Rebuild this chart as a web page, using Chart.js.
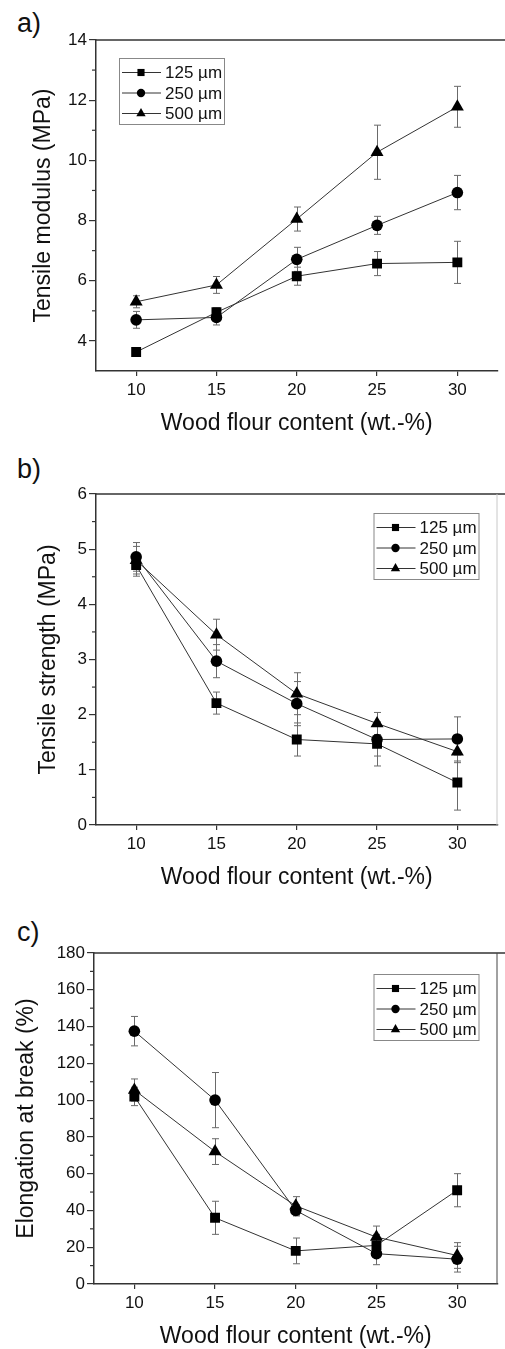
<!DOCTYPE html>
<html>
<head>
<meta charset="utf-8">
<script src="https://cdn.jsdelivr.net/npm/chart.js@4.4.0/dist/chart.umd.min.js"></script>
<style>
  html, body { margin: 0; padding: 0; background: #fff; }
  body { width: 505px; height: 1349px; position: relative; overflow: hidden; font-family: "Liberation Sans", Arial, sans-serif; }
  .panel { position: absolute; left: 0; overflow: hidden; }
  .tag { position: absolute; left: 17px; font-size: 27px; line-height: 27px; color: #111; }
</style>
</head>
<body>
<div class="tag" style="top:10px">a)</div>
<div class="panel" style="top:0;width:505px;height:440px"><canvas id="chartA" width="505" height="440"></canvas></div>
<div class="tag" style="top:456px">b)</div>
<div class="panel" style="top:454px;width:505px;height:440px"><canvas id="chartB" width="505" height="440"></canvas></div>
<div class="tag" style="top:919px">c)</div>
<div class="panel" style="top:913px;width:505px;height:436px"><canvas id="chartC" width="505" height="440"></canvas></div>
<script>
const FONT = '"Liberation Sans", Arial, sans-serif';

// shared
const woodContent = [10, 15, 20, 25, 30];
const xTicks = [10, 15, 20, 25, 30];
const seriesNames = ['125 µm', '250 µm', '500 µm'];

// a) tensile modulus (MPa)
const modulus125 = [3.63, 4.95, 6.15, 6.57, 6.61];
const modulus125Err = [0.13, 0.15, 0.3, 0.4, 0.7];
const modulus250 = [4.70, 4.78, 6.71, 7.84, 8.93];
const modulus250Err = [0.28, 0.25, 0.4, 0.3, 0.57];
const modulus500 = [5.30, 5.86, 8.05, 10.27, 11.78];
const modulus500Err = [0.2, 0.28, 0.4, 0.9, 0.68];
const modulusTicks = [4, 6, 8, 10, 12, 14];
const modulusMinor = [5, 7, 9, 11, 13];

// b) tensile strength (MPa)
const strength125 = [4.71, 2.21, 1.55, 1.47, 0.77];
const strength125Err = [0.2, 0.2, 0.3, 0.4, 0.5];
const strength250 = [4.86, 2.97, 2.20, 1.55, 1.56];
const strength250Err = [0.26, 0.3, 0.4, 0.3, 0.4];
const strength500 = [4.80, 3.45, 2.38, 1.84, 1.33];
const strength500Err = [0.25, 0.28, 0.38, 0.2, 0.2];
const strengthTicks = [0, 1, 2, 3, 4, 5, 6];
const strengthMinor = [0.5, 1.5, 2.5, 3.5, 4.5, 5.5];

// c) elongation at break (%)
const elong125 = [102, 36, 18, 21, 51];
const elong125Err = [5, 9, 7, 6, 9];
const elong250 = [137.5, 100, 40, 16.5, 13.5];
const elong250Err = [8, 15, 3, 6, 7];
const elong500 = [105.5, 72, 42.5, 25.5, 15.5];
const elong500Err = [6, 7, 5, 6, 7];
const elongTicks = [0, 20, 40, 60, 80, 100, 120, 140, 160, 180];
const elongMinor = [10, 30, 50, 70, 90, 110, 130, 150, 170];

const styles = ['rect', 'circle', 'triangle'];
const radii = [7, 5.8, 7.5];

function drawMarker(ctx, style, x, y, r) {
  ctx.beginPath();
  if (style === 'rect') {
    const s = r * Math.SQRT1_2;
    ctx.rect(x - s, y - s, 2 * s, 2 * s);
  } else if (style === 'circle') {
    ctx.arc(x, y, r, 0, Math.PI * 2);
  } else {
    ctx.moveTo(x, y - r);
    ctx.lineTo(x + r * 0.866, y + r / 2);
    ctx.lineTo(x - r * 0.866, y + r / 2);
    ctx.closePath();
  }
  ctx.fill();
}

const errorBars = {
  id: 'errorBars',
  beforeDatasetsDraw(chart) {
    const { ctx, scales: { x, y } } = chart;
    ctx.save();
    ctx.strokeStyle = '#6a6a6a';
    ctx.lineWidth = 1;
    chart.data.datasets.forEach(ds => {
      ds.data.forEach((p, i) => {
        const e = ds.errors[i];
        const px = Math.round(x.getPixelForValue(p.x)) + 0.5;
        const top = y.getPixelForValue(p.y + e);
        const bot = y.getPixelForValue(p.y - e);
        ctx.beginPath();
        ctx.moveTo(px, top); ctx.lineTo(px, bot);
        ctx.moveTo(px - 3.5, top); ctx.lineTo(px + 3.5, top);
        ctx.moveTo(px - 3.5, bot); ctx.lineTo(px + 3.5, bot);
        ctx.stroke();
      });
    });
    ctx.restore();
  }
};

const frame = {
  id: 'frame',
  afterDraw(chart, args, opts) {
    const { ctx, chartArea: a, scales: { y } } = chart;
    ctx.save();
    ctx.strokeStyle = '#333';
    ctx.lineWidth = 1.5;
    ctx.beginPath();
    ctx.moveTo(a.left, a.top); ctx.lineTo(chart.width, a.top);
    ctx.stroke();
    if (opts.rightColor) {
      ctx.strokeStyle = opts.rightColor;
      ctx.lineWidth = 1;
      ctx.beginPath();
      ctx.moveTo(a.right - 0.5, a.top); ctx.lineTo(a.right - 0.5, a.bottom);
      ctx.stroke();
    }
    ctx.strokeStyle = '#333';
    ctx.lineWidth = 1.2;
    opts.minor.forEach(v => {
      const py = y.getPixelForValue(v);
      ctx.beginPath();
      ctx.moveTo(a.left - 4, py); ctx.lineTo(a.left, py);
      ctx.stroke();
    });

    // legend box
    const w = 105, h = 66;
    const left = opts.legendSide === 'left' ? a.left + opts.dx : a.right - opts.dx - w;
    const top = a.top + opts.dy;
    ctx.fillStyle = '#fff';
    ctx.fillRect(left, top, w, h);
    ctx.strokeStyle = '#888';
    ctx.lineWidth = 1;
    ctx.strokeRect(left + 0.5, top + 0.5, w, h);
    ctx.font = '17px ' + FONT;
    ctx.textBaseline = 'middle';
    chart.data.datasets.forEach((ds, i) => {
      const cy = top + 14.5 + i * 20.5;
      ctx.strokeStyle = '#333';
      ctx.beginPath();
      ctx.moveTo(left + 3, cy); ctx.lineTo(left + 42, cy);
      ctx.stroke();
      ctx.fillStyle = '#000';
      drawMarker(ctx, ds.pointStyle, left + 22, cy, ds.pointRadius * 0.72);
      ctx.fillStyle = '#111';
      ctx.fillText(ds.label, left + 46, cy + 1);
    });
    ctx.restore();
  }
};

function makeDatasets(values, errors) {
  return values.map((ys, k) => ({
    label: seriesNames[k],
    data: woodContent.map((x, i) => ({ x: x, y: ys[i] })),
    errors: errors[k],
    borderColor: '#333',
    borderWidth: 1,
    pointStyle: styles[k],
    pointRadius: radii[k],
    pointBackgroundColor: '#000',
    pointBorderWidth: 0,
    tension: 0
  }));
}

function makeChart(id, cfg) {
  return new Chart(document.getElementById(id), {
    type: 'line',
    data: { datasets: makeDatasets(cfg.values, cfg.errors) },
    options: {
      responsive: false,
      animation: false,
      layout: { padding: { top: 40, right: cfg.padRight, left: 0, bottom: 0 } },
      plugins: {
        legend: { display: false },
        tooltip: { enabled: false },
        frame: cfg.frame
      },
      scales: {
        x: {
          type: 'linear', min: 7.5, max: 32.5,
          afterBuildTicks: s => { s.ticks = xTicks.map(v => ({ value: v })); },
          afterFit: s => { s.height = 69; },
          grid: { drawOnChartArea: false, tickLength: 5, color: '#333', lineWidth: 1.2 },
          border: { color: '#333', width: 1.5 },
          ticks: { font: { size: 17, family: FONT }, color: '#111', padding: 4, maxRotation: 0 },
          title: { display: true, text: 'Wood flour content (wt.-%)', font: { size: 23, family: FONT }, color: '#111', padding: { top: 0, bottom: 3 } }
        },
        y: {
          type: 'linear', min: cfg.min, max: cfg.max,
          afterBuildTicks: s => { s.ticks = cfg.ticks.map(v => ({ value: v })); },
          afterFit: s => { s.width = cfg.axisLeft; },
          grid: { drawOnChartArea: false, tickLength: 7, color: '#333', lineWidth: 1.2 },
          border: { color: '#333', width: 1.5 },
          ticks: { font: { size: 17, family: FONT }, color: '#111', padding: 2 },
          title: { display: true, text: cfg.title, font: { size: 23, family: FONT }, color: '#111', padding: { top: cfg.titlePad, bottom: 0 } }
        }
      }
    },
    plugins: [errorBars, frame]
  });
}

makeChart('chartA', {
  values: [modulus125, modulus250, modulus500],
  errors: [modulus125Err, modulus250Err, modulus500Err],
  min: 3, max: 14, ticks: modulusTicks, axisLeft: 96, padRight: 0,
  title: 'Tensile modulus (MPa)', titlePad: 30,
  frame: { minor: modulusMinor, rightColor: null, legendSide: 'left', dx: 23, dy: 18 }
});

makeChart('chartB', {
  values: [strength125, strength250, strength500],
  errors: [strength125Err, strength250Err, strength500Err],
  min: 0, max: 6, ticks: strengthTicks, axisLeft: 96, padRight: 1,
  title: 'Tensile strength (MPa)', titlePad: 35,
  frame: { minor: strengthMinor, rightColor: '#c8c8c8', legendSide: 'right', dx: 19, dy: 19 }
});

makeChart('chartC', {
  values: [elong125, elong250, elong500],
  errors: [elong125Err, elong250Err, elong500Err],
  min: 0, max: 180, ticks: elongTicks, axisLeft: 94, padRight: 2,
  title: 'Elongation at break (%)', titlePad: 13,
  frame: { minor: elongMinor, rightColor: '#444', legendSide: 'right', dx: 19, dy: 21 }
});
</script>
</body>
</html>
